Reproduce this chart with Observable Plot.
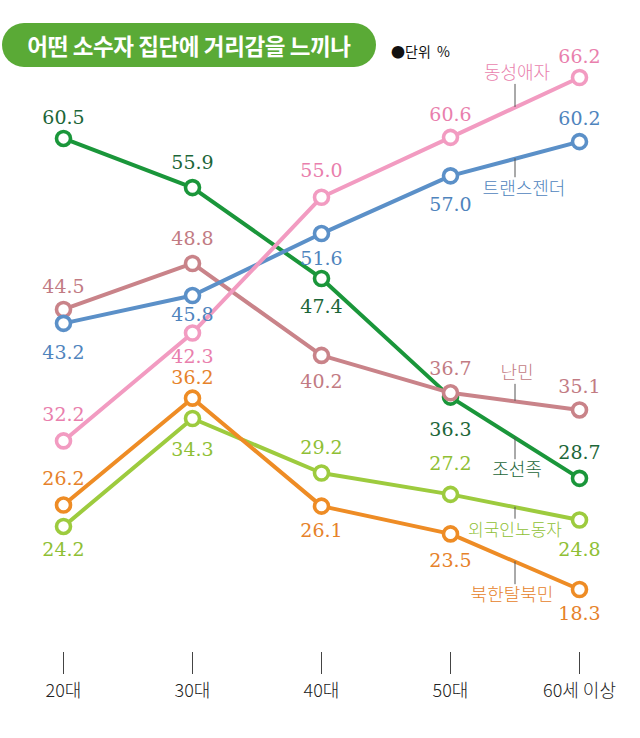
<!DOCTYPE html>
<html><head><meta charset="utf-8">
<script src="https://cdn.jsdelivr.net/npm/d3@7"></script>
<script src="https://cdn.jsdelivr.net/npm/@observablehq/plot@0.6"></script>
<style>
body{margin:0;background:#fff;}
#wrap{position:relative;width:640px;height:738px;font-family:"Noto Sans CJK KR",sans-serif;overflow:hidden;}
#title{position:absolute;left:2px;top:23px;width:374px;height:44px;border-radius:22px;background:#5aaa36;color:#fff;font-weight:700;font-size:22.5px;line-height:44px;text-align:center;letter-spacing:-0.4px;}
#unit{position:absolute;left:391px;top:41px;font-size:14px;color:#111;line-height:20px;}
#chart{position:absolute;left:0;top:0;}
</style></head>
<body><div id="wrap"><div id="chart"></div><div id="title">어떤 소수자 집단에 거리감을 느끼나</div><div id="unit">●단위&nbsp;&nbsp;%</div></div>
<script>
// ---- data ----
const ages = ["20대", "30대", "40대", "50대", "60세 이상"];
const seriesNames = ["외국인노동자", "북한탈북민", "조선족", "난민", "트랜스젠더", "동성애자"];
const foreignWorker = [24.2, 34.3, 29.2, 27.2, 24.8];
const northDefector = [26.2, 36.2, 26.1, 23.5, 18.3];
const joseonjok     = [60.5, 55.9, 47.4, 36.3, 28.7];
const refugee       = [44.5, 48.8, 40.2, 36.7, 35.1];
const transgender   = [43.2, 45.8, 51.6, 57.0, 60.2];
const homosexual    = [32.2, 42.3, 55.0, 60.6, 66.2];
const seriesValues = [foreignWorker, northDefector, joseonjok, refugee, transgender, homosexual];

// ---- styles (not data) ----
const lineColors = {"외국인노동자":"#9dcb3e","북한탈북민":"#ee8c25","조선족":"#1a963a","난민":"#c98389","트랜스젠더":"#5b90c8","동성애자":"#f29bc1"};
const textColors = {"외국인노동자":"#8fbf35","북한탈북민":"#e6822a","조선족":"#1c6638","난민":"#c27b83","트랜스젠더":"#4f84bd","동성애자":"#e97fad"};
// value label pixel offsets (negative = above the marker, positive = below)
const labelOffset = {
  "외국인노동자": [23, 31, -25, -30, 30],
  "북한탈북민":   [-26, -20, 25, 27, 24],
  "조선족":       [-21, -25, 28, 33, -25],
  "난민":         [-23, -25, 26, -24, -23],
  "트랜스젠더":   [30, 19, 25, 29, -23],
  "동성애자":     [-26, 24, -26, -22, -21]
};
const nameDy = {"동성애자":-34,"트랜스젠더":30,"난민":-28,"조선족":33,"외국인노동자":23,"북한탈북민":34};
const nameDx = {"동성애자":2,"트랜스젠더":9,"난민":2,"조선족":2,"외국인노동자":0,"북한탈북민":-3};

const yDomain = [18.3, 66.2], yRange = [589, 77];
const k = (yRange[0] - yRange[1]) / (yDomain[1] - yDomain[0]);

const rows = [];
seriesNames.forEach((s, i) => ages.forEach((a, j) => rows.push({series: s, age: a, value: seriesValues[i][j], off: labelOffset[s][j]})));

const numFont = "DejaVu Serif";
const marks = [
  Plot.axisX({ticks: ages, tickSize: 22, tickPadding: 10, fontSize: 18, stroke: "#444", fill: "#222", label: null, fontFamily: "Noto Sans CJK KR", fontWeight: 300})
];
for (const s of seriesNames) {
  const d = rows.filter(r => r.series === s);
  marks.push(Plot.line(d, {x: "age", y: "value", stroke: lineColors[s], strokeWidth: 4}));
  marks.push(Plot.dot(d, {x: "age", y: "value", r: 7, fill: "white", stroke: lineColors[s], strokeWidth: 3.6}));
}
for (const s of seriesNames) {
  const d = rows.filter(r => r.series === s);
  // value labels: y shifted by a pixel offset converted through the y scale's slope
  marks.push(Plot.text(d, {x: "age", y: r => r.value - r.off / k, text: r => r.value.toFixed(1), fill: textColors[s], fontSize: 19, fontFamily: numFont, lineAnchor: "middle"}));
  // series name with leader line, placed midway between 50대 and 60세 이상
  const v = seriesValues[seriesNames.indexOf(s)];
  const mid = (v[3] + v[4]) / 2;
  const dy = nameDy[s];
  const sgn = Math.sign(dy);
  const y2 = mid - (dy - sgn * 11) / k;
  marks.push(Plot.ruleX([{y1: mid, y2}], {x: () => "50대", dx: 64.5, y1: "y1", y2: "y2", stroke: "#555", strokeWidth: 1}));
  marks.push(Plot.text([{name: s, y: mid}], {x: () => "50대", y: "y", text: "name", dx: 64.5 + nameDx[s], dy, fill: textColors[s], fontSize: s === "외국인노동자" ? 17 : 18, fontFamily: "Noto Sans CJK KR", fontWeight: 300, lineAnchor: "middle"}));
}

const chart = Plot.plot({
  width: 640,
  height: 738,
  marginBottom: 86,
  x: {type: "point", domain: ages, range: [63, 579], padding: 0, axis: null},
  y: {domain: yDomain, range: yRange, axis: null},
  style: {fontFamily: "Noto Sans CJK KR", background: "transparent", overflow: "visible"},
  marks
});
document.getElementById("chart").appendChild(chart);
</script>
</body></html>
